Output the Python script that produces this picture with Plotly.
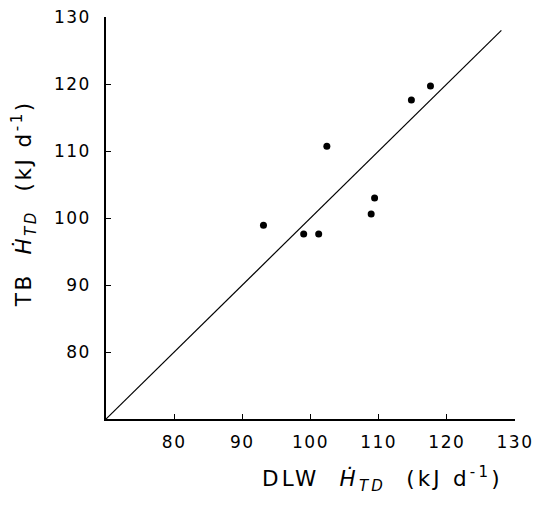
import plotly.graph_objects as go

# Data
dlw_htd = [93.1, 99.0, 101.2, 102.4, 108.9, 109.4, 114.8, 117.6]
tb_htd = [98.9, 97.6, 97.6, 110.7, 100.6, 103.0, 117.6, 119.7]
identity_line = [70, 128]
tick_vals = [80, 90, 100, 110, 120, 130]
tick_labels = ["80", "90", "100", "110", "120", "130"]
axis_range = [70, 130]

font_family = "DejaVu Sans, Liberation Sans, Arial, sans-serif"


def spaced(txt, ls):
    return f'<span style="letter-spacing:{ls}px">{txt}</span>'


tick_text = [spaced(t, 1.5) for t in tick_labels]

fig = go.Figure()
fig.add_trace(go.Scatter(
    x=identity_line, y=identity_line, mode="lines",
    line=dict(color="black", width=1.2), showlegend=False, hoverinfo="skip"))
fig.add_trace(go.Scatter(
    x=dlw_htd, y=tb_htd, mode="markers",
    marker=dict(color="black", size=7), showlegend=False))

axis_common = dict(
    range=axis_range, tickvals=tick_vals, ticktext=tick_text,
    showgrid=False, zeroline=False, showline=True, linecolor="black",
    linewidth=1.5, ticks="inside", ticklen=5, tickwidth=1.3, tickcolor="black",
    tickfont=dict(family=font_family, size=17, color="black"),
    automargin=False, ticklabeloverflow="allow",
)

fig.update_xaxes(**axis_common, ticklabelstandoff=7)
fig.update_yaxes(**axis_common, ticklabelstandoff=10)

title_font = dict(family=font_family, size=21.5, color="black")
fig.add_annotation(
    text=spaced("DLW  <i>Ḣ</i><sub><i>TD</i></sub>  (kJ d<sup>-1</sup>)", 3.2),
    xref="paper", yref="paper", x=0.677, y=-0.15,
    xanchor="center", yanchor="middle", showarrow=False, font=title_font)
fig.add_annotation(
    text=spaced("TB  <i>Ḣ</i><sub><i>TD</i></sub>  (kJ d<sup>-1</sup>)", 2.5),
    xref="paper", yref="paper", x=-0.2, y=0.535, textangle=-90,
    xanchor="center", yanchor="middle", showarrow=False, font=title_font)

fig.update_layout(
    width=544, height=505,
    margin=dict(l=98, r=37, t=9, b=94),
    plot_bgcolor="white", paper_bgcolor="white",
)

fig.write_html("out.html")
